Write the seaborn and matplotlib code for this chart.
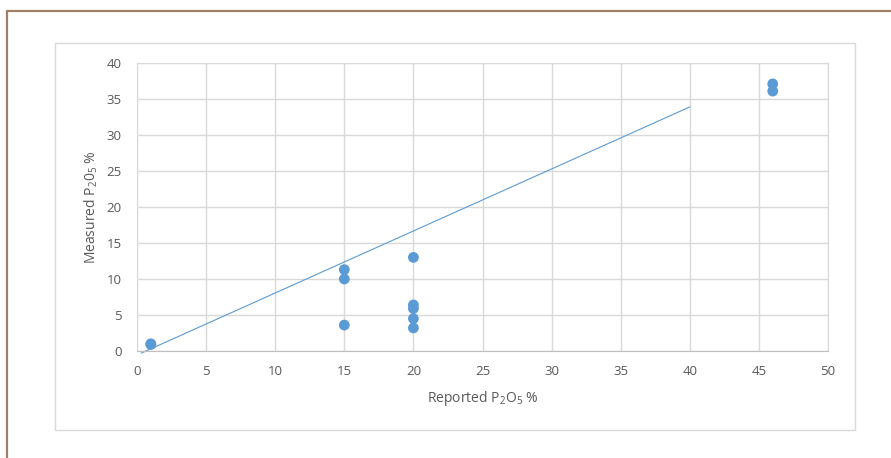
import numpy as np
import pandas as pd
import matplotlib
matplotlib.use("Agg")
import matplotlib.pyplot as plt
import seaborn as sns
from matplotlib.patches import Rectangle
from matplotlib.lines import Line2D

# data
reported = [1, 1, 15, 15, 15, 20, 20, 20, 20, 20, 46, 46]
measured = [1.0, 0.9, 11.3, 10.0, 3.6, 13.0, 6.4, 5.9, 4.5, 3.2, 37.1, 36.1]

# straight line drawn on the chart
line_x = [0.3, 40]
line_y = [-0.3, 33.9]

x_ticks = list(range(0, 51, 5))
y_ticks = list(range(0, 41, 5))

sns.set_style("white")
plt.rcParams['font.family'] = ['Open Sans', 'DejaVu Sans']
plt.rcParams['mathtext.default'] = 'regular'

df = pd.DataFrame({"reported": reported, "measured": measured})

fig = plt.figure(figsize=(8.91, 4.58), dpi=100)
ax = fig.add_axes([137/891, 1 - 351/458, (828 - 137)/891, (351 - 63)/458])

grey = "#595959"
grid = "#d9d9d9"

ax.plot(line_x, line_y, color="#5b9bd5", linewidth=0.8, zorder=2, clip_on=False)
sns.scatterplot(data=df, x="reported", y="measured", ax=ax, color="#5b9bd5",
                s=60, edgecolor="none", zorder=3, clip_on=False)

ax.set_xlim(0, 50)
ax.set_ylim(0, 40)
ax.set_xticks(x_ticks)
ax.set_yticks(y_ticks)
ax.grid(True, color=grid, linewidth=1)
ax.set_axisbelow(True)
for side in ["top", "right", "left"]:
    ax.spines[side].set_color(grid)
ax.spines["bottom"].set_color("#bfbfbf")
ax.tick_params(axis="both", length=0, labelsize=9.5, labelcolor=grey)
ax.tick_params(axis="x", pad=10)
ax.tick_params(axis="y", pad=11)

ax.set_xlabel("Reported P$_2$O$_5$ %", fontsize=10, color=grey, labelpad=8)
ax.set_ylabel("Measured P$_2$0$_5$ %", fontsize=10, color=grey, labelpad=5)

# chart area frame
fig.patches.append(Rectangle((55/891, 1 - 430/458), 800/891, 387/458,
                             transform=fig.transFigure, fill=False,
                             edgecolor=grid, linewidth=1))
# outer brown border (left and top)
brown = "#9e8068"
fig.lines.append(Line2D([6.5/891, 6.5/891], [0, 1 - 10.5/458],
                        transform=fig.transFigure, color=brown, linewidth=1.6))
fig.lines.append(Line2D([6.5/891, 1], [1 - 10.5/458, 1 - 10.5/458],
                        transform=fig.transFigure, color=brown, linewidth=1.6))

fig.savefig("out.png", dpi=100)
